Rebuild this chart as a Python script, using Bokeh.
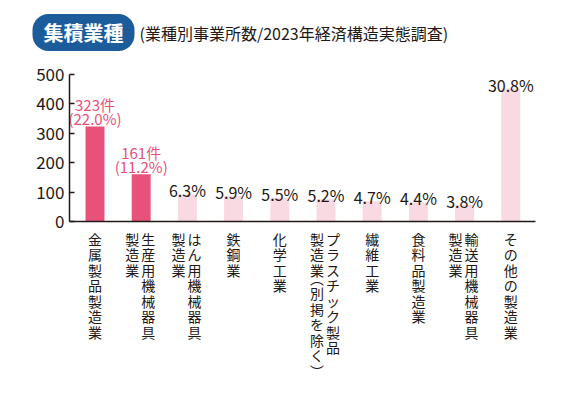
from bokeh.plotting import figure
from bokeh.models import ColumnDataSource, Range1d, FixedTicker, Label
from bokeh.core.properties import value
from bokeh.embed import file_html
from bokeh.resources import INLINE

# ---- data ----
label_columns = [
    ["金属製品製造業"],
    ["生産用機械器具", "製造業"],
    ["はん用機械器具", "製造業"],
    ["鉄鋼業"],
    ["化学工業"],
    ["プラスチック製品", "製造業（別掲を除く）"],
    ["繊維工業"],
    ["食料品製造業"],
    ["輸送用機械器具", "製造業"],
    ["その他の製造業"],
]
counts = [323, 161, 92, 87, 81, 76, 69, 65, 56, 452]
shares = ["22.0", "11.2", "6.3", "5.9", "5.5", "5.2", "4.7", "4.4", "3.8", "30.8"]
highlight = [True, True, False, False, False, False, False, False, False, False]
y_ticks = [0, 100, 200, 300, 400, 500]
title_text = "集積業種"
subtitle_text = "(業種別事業所数/2023年経済構造実態調査)"

FONT = "Noto Sans CJK JP"
DARK = "#231815"
PINK = "#e8527a"
LIGHT = "#f9dae2"
BLUE = "#1d5c9b"

W = 559
H = 390

# pixel layout helpers (page pixel -> data)
px_per_unit = 0.294     # vertical px per count
zero_py = 221           # page y of value 0
unit_px = 46.2          # horizontal px per category
first_px = 94.5         # page x of first category centre
def dx(px): return (px - first_px) / unit_px
def dy(py): return (zero_py - py) / px_per_unit

xs = list(range(len(counts)))

bar_src = ColumnDataSource(dict(
    x=xs, top=counts,
    color=[PINK if h else LIGHT for h in highlight],
))

hi_x = [x for x, h in zip(xs, highlight) if h]
hi_y = [c for c, h in zip(counts, highlight) if h]
hi_src1 = ColumnDataSource(dict(x=hi_x, y=hi_y,
                                t=[f"{c}件" for c, h in zip(counts, highlight) if h]))
hi_src2 = ColumnDataSource(dict(x=hi_x, y=hi_y,
                                t=[f"({s}%)" for s, h in zip(shares, highlight) if h]))
lo_src = ColumnDataSource(dict(
    x=[x for x, h in zip(xs, highlight) if not h],
    y=[c for c, h in zip(counts, highlight) if not h],
    t=[f"{s}%" for s, h in zip(shares, highlight) if not h],
))

# vertical category labels: one text per character
PITCH = 15.5
HALF = 8
ch_x, ch_t, ch_xo, ch_yo = [], [], [], []
for x, cols in zip(xs, label_columns):
    offs = [0] if len(cols) == 1 else [7, -9]
    for col, xo in zip(cols, offs):
        cur = 7
        for ch in col:
            if ch == "（":
                ch_t.append("︵"); ch_yo.append(cur - 7); cur += HALF
            elif ch == "）":
                ch_t.append("︶"); ch_yo.append(cur); cur += HALF
            else:
                ch_t.append(ch); ch_yo.append(cur); cur += PITCH
            ch_x.append(x); ch_xo.append(xo)
cat_src = ColumnDataSource(dict(x=ch_x, y=[0] * len(ch_x), t=ch_t, xo=ch_xo, yo=ch_yo))

# ---- figure ----
p = figure(frame_width=W, frame_height=H, min_border=0,
           x_range=Range1d(dx(0), dx(W)), y_range=Range1d(dy(H), dy(0)),
           output_backend="svg", toolbar_location=None)
p.outline_line_color = None
p.grid.visible = False

p.vbar(x="x", top="top", width=0.41, color="color", line_color=None, source=bar_src)

p.text(x="x", y="y", text="t", source=hi_src1, text_align="center", text_baseline="alphabetic",
       text_color=PINK, text_font=value(FONT), text_font_size="15px", y_offset=-22)
p.text(x="x", y="y", text="t", source=hi_src2, text_align="center", text_baseline="alphabetic",
       text_color=PINK, text_font=value(FONT), text_font_size="15px", y_offset=-8)
p.text(x="x", y="y", text="t", source=lo_src, text_align="center", text_baseline="alphabetic",
       text_color=DARK, text_font=value(FONT), text_font_size="16px", y_offset=-4)

p.text(x="x", y="y", text="t", source=cat_src, text_align="center", text_baseline="top",
       text_color=DARK, text_font=value(FONT), text_font_size="14px",
       x_offset="xo", y_offset="yo")

# axes (drawn at fixed positions inside the frame)
p.yaxis.fixed_location = dx(69)
p.yaxis.ticker = FixedTicker(ticks=y_ticks)
p.yaxis.bounds = (0, 500)
p.yaxis.major_tick_in = 5
p.yaxis.major_tick_out = 0
p.yaxis.minor_tick_line_color = None
p.yaxis.axis_line_color = DARK
p.yaxis.axis_line_width = 1.5
p.yaxis.major_tick_line_color = DARK
p.yaxis.major_tick_line_width = 1.5
p.yaxis.major_label_text_font = FONT
p.yaxis.major_label_text_font_size = "17px"
p.yaxis.major_label_text_color = DARK
p.yaxis.major_label_standoff = 5

p.xaxis.fixed_location = 0
p.xaxis.bounds = (dx(69), dx(535))
p.xaxis.ticker = FixedTicker(ticks=[])
p.xaxis.major_tick_in = 0
p.xaxis.major_tick_out = 0
p.xaxis.minor_tick_line_color = None
p.xaxis.major_label_text_font_size = "0px"
p.xaxis.axis_line_color = DARK
p.xaxis.axis_line_width = 1.5

# title
p.add_layout(Label(x=dx(83), y=dy(32), text=title_text,
                   text_align="center", text_baseline="middle",
                   text_font=FONT, text_font_size="20px", text_font_style="bold",
                   text_color="white", background_fill_color=BLUE,
                   border_radius=16,
                   padding=dict(left=11, right=11, top=4, bottom=4)))
p.add_layout(Label(x=dx(139), y=dy(32), text=subtitle_text,
                   text_align="left", text_baseline="middle",
                   text_font=FONT, text_font_size="16px", text_color=DARK))

open("out.html", "w").write(file_html(p, INLINE))
